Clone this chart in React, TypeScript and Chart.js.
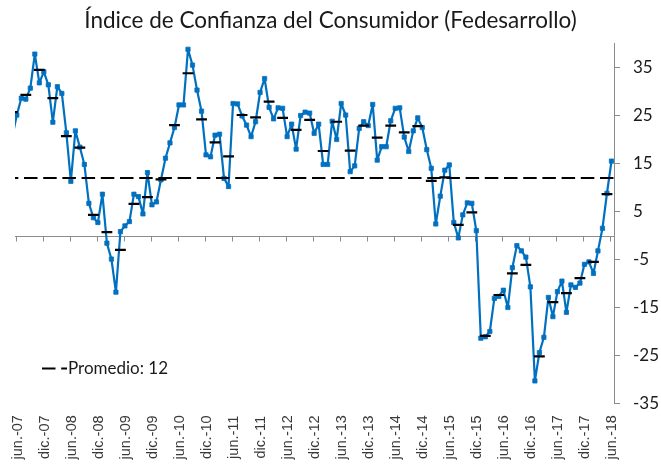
import React, { useEffect, useRef } from "react";
import { Chart, registerables } from "chart.js";

Chart.register(...registerables);

// ---------- data ----------
const TITLE = "Índice de Confianza del Consumidor (Fedesarrollo)";
const MONTH_NAMES = ["ene.", "feb.", "mar.", "abr.", "may.", "jun.", "jul.", "ago.", "sep.", "oct.", "nov.", "dic."];
const FIRST_YEAR = 2007;
const FIRST_MONTH = 4; // may.-07 (first reading, clipped at the left edge)
const LABEL_MONTHS = ["jun.", "dic."];

// monthly index, may.-07 .. jun.-18
const monthlyICC = [
  20.5,
  25.1, 28.6, 28.4, 30.7, 37.8, 31.8, 34.1, 31.4, 23.6, 31.0, 29.6, 21.4,
  11.3, 21.8, 18.4, 14.8, 6.7, 3.7, 2.7, 8.6, -1.6, -4.9, -11.8, 0.8,
  2.0, 2.9, 8.6, 8.1, 4.5, 13.1, 6.4, 7.0, 11.6, 16.1, 19.3, 22.5,
  27.2, 27.2, 38.8, 35.5, 30.3, 25.9, 16.8, 16.4, 20.9, 21.1, 11.9, 10.2,
  27.5, 27.4, 24.9, 23.0, 20.6, 23.7, 29.8, 32.7, 26.7, 24.3, 26.6, 26.5,
  20.6, 23.2, 18.0, 25.0, 25.7, 25.5, 21.3, 23.2, 14.8, 14.8, 23.8, 20.0,
  27.5, 25.1, 13.3, 14.5, 22.3, 23.7, 22.9, 27.3, 15.7, 18.5, 18.5, 23.9,
  26.5, 26.6, 20.5, 17.5, 21.8, 24.5, 22.5, 17.9, 14.0, 2.4, 8.2, 13.6,
  14.7, 2.7, -0.5, 4.3, 6.8, 6.7, 1.0, -21.4, -21.1, -20.0, -13.1, -12.7,
  -11.4, -15.0, -6.7, -2.1, -3.2, -4.5, -10.7, -30.3, -24.4, -21.2, -12.9, -16.9,
  -11.7, -9.5, -16.0, -10.3, -10.8, -9.9, -6.0, -5.5, -7.9, -3.2, 1.5, 8.8,
  15.5,
];

// quarterly averages (placed on the middle month of each quarter), II-2007 .. II-2018
const quarterlyICC = [
  25.7, 29.3, 34.5, 28.6, 20.7, 18.3, 4.3, 0.7, -3.0, 6.6,
  8.0, 11.7, 23.0, 33.8, 24.2, 19.4, 16.5, 25.1, 24.6, 27.9,
  24.5, 22.0, 24.1, 17.6, 23.7, 17.7, 22.9, 20.4, 22.9, 21.5,
  22.8, 11.4, 12.1, 2.2, 4.8, -20.9, -12.4, -7.9, -6.1, -25.2,
  -13.9, -12.0, -8.9, -5.5, 8.6,
];

const AVERAGE = 12;
const LEGEND_LABEL = `Promedio: ${AVERAGE}`;
const Y_TICKS = [-35, -25, -15, -5, 5, 15, 25, 35];
const Y_MIN = -35;
const Y_MAX = 40;
const X_MIN = 0.6;
const X_MAX = 133.56;

const categories = monthlyICC.map((_, k) => {
  const t = FIRST_MONTH + k;
  const m = t % 12;
  const yr = FIRST_YEAR + Math.floor(t / 12);
  return `${MONTH_NAMES[m]}-${String(yr).slice(2)}`;
});
const isLabelled = (c: string) => LABEL_MONTHS.some((m) => c.startsWith(m));

const BLUE = "#0070C0";
const DASH = [13.5, 5.7];
const SERIF_LIKE = "Lato, 'Open Sans', sans-serif";
const LABEL_FONT = "'Liberation Sans', Arial, sans-serif";

// ---------- plugins ----------
const zeroAxisPlugin = {
  id: "zeroAxis",
  beforeDatasetsDraw(chart: any) {
    const { ctx, chartArea, scales } = chart;
    const x = scales.x;
    const y = scales.y;
    const y0 = Math.round(y.getPixelForValue(0)) + 0.5;
    ctx.save();
    ctx.strokeStyle = "#8c8c8c";
    ctx.lineWidth = 1;
    ctx.beginPath();
    ctx.moveTo(chartArea.left, y0);
    ctx.lineTo(chartArea.right, y0);
    categories.forEach((c, k) => {
      if (!isLabelled(c)) return;
      const px = Math.round(x.getPixelForValue(k) - 1) + 0.5;
      ctx.moveTo(px, y0);
      ctx.lineTo(px, y0 + 5);
    });
    ctx.stroke();
    ctx.restore();
  },
};

const xLabelsPlugin = {
  id: "xLabels",
  afterDraw(chart: any) {
    const { ctx, chartArea, scales } = chart;
    const x = scales.x;
    const cy = (chartArea.bottom + chart.height) / 2 + 3;
    ctx.save();
    ctx.fillStyle = "#3a3a3a";
    ctx.font = `14.5px ${LABEL_FONT}`;
    ctx.textAlign = "center";
    ctx.textBaseline = "middle";
    categories.forEach((c, k) => {
      if (!isLabelled(c)) return;
      const px = x.getPixelForValue(k) + 1;
      ctx.save();
      ctx.translate(px, cy);
      ctx.rotate(-Math.PI / 2);
      ctx.fillText(c, 0, 0);
      ctx.restore();
    });
    ctx.restore();
  },
};

const legendPlugin = {
  id: "insideLegend",
  afterDatasetsDraw(chart: any) {
    const { ctx, chartArea } = chart;
    const lx = chartArea.left + 27;
    const ly = chartArea.bottom - 35;
    ctx.save();
    ctx.strokeStyle = "#000";
    ctx.lineWidth = 2;
    ctx.setLineDash(DASH);
    ctx.beginPath();
    ctx.moveTo(lx, ly);
    ctx.lineTo(lx + 25, ly);
    ctx.stroke();
    ctx.setLineDash([]);
    ctx.fillStyle = "#1a1a1a";
    ctx.font = `17px ${SERIF_LIKE}`;
    ctx.textAlign = "left";
    ctx.textBaseline = "middle";
    ctx.fillText(LEGEND_LABEL, lx + 26, ly);
    ctx.restore();
  },
};

export default function App() {
  const ref = useRef<HTMLCanvasElement | null>(null);

  useEffect(() => {
    if (!ref.current) return;
    const clip = { left: 0, top: 6, right: 6, bottom: 6 };
    const chart = new Chart(ref.current, {
      type: "line",
      data: {
        datasets: [
          {
            label: "Promedio trimestral",
            data: quarterlyICC.map((v, q) => ({ x: q * 3, y: v })),
            xAxisID: "x",
            yAxisID: "y",
            showLine: false,
            pointStyle: "line",
            pointRadius: 5.4,
            pointBorderWidth: 2.2,
            pointBorderColor: "#000",
            pointBackgroundColor: "#000",
            borderColor: "#000",
            clip,
          } as any,
          {
            label: LEGEND_LABEL,
            data: [
              { x: X_MIN, y: AVERAGE },
              { x: X_MAX, y: AVERAGE },
            ],
            xAxisID: "x",
            yAxisID: "y",
            borderColor: "#000",
            borderWidth: 2,
            borderDash: DASH,
            borderDashOffset: 10.2,
            pointRadius: 0,
            clip,
          } as any,
          {
            label: "ICC",
            data: monthlyICC.map((v, k) => ({ x: k, y: v })),
            xAxisID: "x",
            yAxisID: "y",
            borderColor: BLUE,
            borderWidth: 2.2,
            borderJoinStyle: "round",
            borderCapStyle: "round",
            pointStyle: "rect",
            pointRadius: 3,
            pointBorderWidth: 0.8,
            pointBackgroundColor: BLUE,
            pointBorderColor: BLUE,
            tension: 0,
            clip,
          } as any,
        ],
      },
      options: {
        animation: false,
        responsive: false,
        devicePixelRatio: 1,
        events: [],
        layout: { padding: 0 },
        plugins: {
          legend: { display: false },
          tooltip: { enabled: false },
          title: {
            display: true,
            text: TITLE,
            color: "#1a1a1a",
            font: { family: SERIF_LIKE, size: 22.5, weight: "normal" as any, lineHeight: 1.2 },
            padding: { top: 7, bottom: 9.5 },
          },
        },
        scales: {
          x: {
            type: "linear",
            min: X_MIN,
            max: X_MAX,
            grid: { display: false },
            border: { display: false },
            ticks: { display: false },
            afterFit: (s: any) => {
              s.height = 61.5;
            },
          },
          y: {
            position: "right",
            min: Y_MIN,
            max: Y_MAX,
            afterBuildTicks: (s: any) => {
              s.ticks = Y_TICKS.map((v) => ({ value: v }));
            },
            afterFit: (s: any) => {
              s.width = 47;
            },
            grid: {
              drawOnChartArea: false,
              drawTicks: true,
              tickLength: 6,
              tickColor: "#8c8c8c",
              color: "#8c8c8c",
            },
            border: { display: true, color: "#8c8c8c", width: 1 },
            ticks: {
              padding: 13,
              color: "#1a1a1a",
              font: { family: SERIF_LIKE, size: 17 },
              callback: (v: any) => String(v),
            },
          },
          yPad: {
            position: "left",
            min: Y_MIN,
            max: Y_MAX,
            grid: { display: false },
            border: { display: false },
            ticks: { display: false },
            afterFit: (s: any) => {
              s.width = 15;
            },
          },
        },
      },
      plugins: [zeroAxisPlugin, xLabelsPlugin, legendPlugin],
    });
    return () => chart.destroy();
  }, []);

  return (
    <div style={{ position: "fixed", left: 0, top: 0, width: 661, height: 465, background: "#fff" }}>
      <canvas ref={ref} width={661} height={465} style={{ display: "block" }} />
    </div>
  );
}
